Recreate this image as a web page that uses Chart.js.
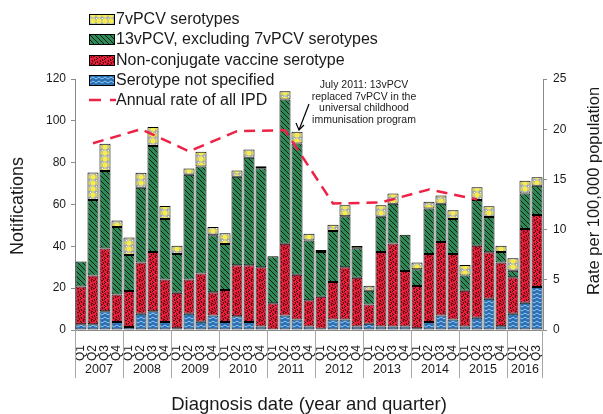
<!DOCTYPE html>
<html>
<head>
<meta charset="utf-8">
<script src="https://cdn.jsdelivr.net/npm/chart.js@4.4.1/dist/chart.umd.min.js"></script>
<style>
  html, body { margin: 0; padding: 0; background: #fff; }
  #wrap { width: 603px; height: 414px; }
</style>
</head>
<body>
<div id="wrap"><canvas id="ipdChart" width="603" height="414"></canvas></div>
<script>
// ===== Data =====
const quarters = ['Q1','Q2','Q3','Q4','Q1','Q2','Q3','Q4','Q1','Q2','Q3','Q4','Q1','Q2','Q3','Q4',
  'Q1','Q2','Q3','Q4','Q1','Q2','Q3','Q4','Q1','Q2','Q3','Q4','Q1','Q2','Q3','Q4',
  'Q1','Q2','Q3','Q4','Q1','Q2','Q3'];
const years = ['2007','2008','2009','2010','2011','2012','2013','2014','2015','2016'];

const notSpecified = [2.8, 2.8, 9, 3.8, 1.4, 7.8, 9, 3.8, 0.8, 7.8, 4, 6.9, 3.8, 6.6, 3.8, 1.7,
  0, 6.9, 5, 1.7, 0.6, 5, 5, 1.7, 3, 1.7, 1.7, 1.7, 0.8, 3.8, 6.9, 5,
  1.7, 5.9, 15, 1.8, 7.8, 13, 20.6];
const nonConjugate = [18, 23.3, 30, 13.2, 17.3, 24.5, 28.3, 20.4, 17, 16.4, 23, 11.1, 15.3, 24.4, 27.2, 28.3,
  12.8, 34.3, 21.4, 12.5, 15.3, 18, 25, 23.3, 9.2, 35.6, 39.6, 26.5, 20.2, 32.5, 35.2, 31.3,
  17.1, 34.4, 22.2, 30.5, 17.4, 35.3, 34.4];
const pcv13Excl7 = [12, 36, 37, 32.3, 17.2, 35.7, 50.7, 28.9, 18.5, 50, 51.2, 27.3, 22, 42.3, 51.3, 47.3,
  22.5, 69, 62.8, 28.6, 21.4, 24.3, 24.4, 14.1, 6.6, 16.8, 19, 17.3, 8.1, 21.8, 18.2, 16.8,
  7.2, 21.8, 16.8, 5, 3.1, 17, 14];
const pcv7 = [0, 13.2, 13, 3, 8.3, 7.2, 9, 6.2, 4, 3, 7, 4, 5.2, 3, 4, 1,
  0, 4, 5.6, 3.2, 1, 3, 5.3, 1, 2.4, 5.5, 5, 0, 3.2, 3.2, 4, 4.2,
  5.1, 6.2, 5.2, 3, 6, 6, 4];
// annual rate per 100,000, plotted at Q2 of each year
const annualRate = [18.6, 20.0, 17.8, 19.8, 19.9, 12.6, 12.7, 14.0, 13.0];

const rateSeries = quarters.map(() => null);
annualRate.forEach((v, i) => { rateSeries[i * 4 + 1] = v; });

// ===== Fill patterns =====
function makePattern(w, h, draw) {
  const c = document.createElement('canvas');
  c.width = w; c.height = h;
  const g = c.getContext('2d');
  draw(g, w, h);
  return document.getElementById('ipdChart').getContext('2d').createPattern(c, 'repeat');
}

const yellowDots = makePattern(6, 6, (g) => {
  g.fillStyle = '#9ea6cc'; g.fillRect(0, 0, 6, 6);
  g.fillStyle = '#f6ec4a';
  g.beginPath(); g.arc(3, 3, 2.7, 0, Math.PI * 2); g.fill();
  g.fillStyle = '#eef0f8';
  g.fillRect(0, 0, 1, 1);
});

const greenHatch = makePattern(5, 5, (g) => {
  g.fillStyle = '#2d8a57'; g.fillRect(0, 0, 5, 5);
  g.strokeStyle = '#0b1a10'; g.lineWidth = 1;
  [-5, 0, 5].forEach(o => {
    g.beginPath(); g.moveTo(o - 1, -1); g.lineTo(o + 6, 6); g.stroke();
  });
});

const redSquiggle = makePattern(8, 8, (g) => {
  g.fillStyle = '#ec1f3b'; g.fillRect(0, 0, 8, 8);
  g.strokeStyle = '#1a0005'; g.lineWidth = 0.9;
  const strokes = [[0,1,2,3],[3,0,4,2],[5,1,7,0],[1,5,2,7],[4,4,5,6],[6,3,7,5],[3,7,5,8],[7,6,8,8],[0,4,1,3]];
  strokes.forEach(s => { g.beginPath(); g.moveTo(s[0], s[1]); g.lineTo(s[2], s[3]); g.stroke(); });
});

const blueZigzag = makePattern(6, 4, (g) => {
  g.fillStyle = '#2b6db3'; g.fillRect(0, 0, 6, 4);
  g.strokeStyle = '#8fcdf2'; g.lineWidth = 1;
  g.beginPath(); g.moveTo(0, 3); g.lineTo(3, 1); g.lineTo(6, 3); g.stroke();
});

const axisGrey = '#8a8a8a';
const txt = '#1a1a1a';
const font = 'Arial, "Liberation Sans", sans-serif';

// ===== Legend, annotation, years, titles =====
const decorPlugin = {
  id: 'decor',
  afterDraw(chart) {
    const ctx = chart.ctx;
    const area = chart.chartArea;
    const catW = (area.right - area.left) / quarters.length;
    ctx.save();

    // year separators and labels
    ctx.strokeStyle = '#a6a6a6'; ctx.lineWidth = 1;
    ctx.fillStyle = txt;
    ctx.font = '12.5px ' + font;
    ctx.textAlign = 'center'; ctx.textBaseline = 'middle';
    years.forEach((yr, i) => {
      const x0 = area.left + i * 4 * catW;
      const n = Math.min(4, quarters.length - i * 4);
      const x1 = x0 + n * catW;
      ctx.beginPath(); ctx.moveTo(Math.round(x0) + 0.5, area.bottom); ctx.lineTo(Math.round(x0) + 0.5, 378); ctx.stroke();
      ctx.fillText(yr, (x0 + x1) / 2, 370);
    });
    ctx.beginPath(); ctx.moveTo(Math.round(area.right) - 0.5, area.bottom); ctx.lineTo(Math.round(area.right) - 0.5, 378); ctx.stroke();

    // axis titles
    ctx.font = '18.5px ' + font;
    ctx.fillText('Diagnosis date (year and quarter)', (area.left + area.right) / 2, 405);
    ctx.save();
    ctx.font = '18px ' + font;
    ctx.translate(18, 206); ctx.rotate(-Math.PI / 2);
    ctx.fillText('Notifications', 0, 0);
    ctx.restore();
    ctx.save();
    ctx.font = '16.5px ' + font;
    ctx.translate(594, 191); ctx.rotate(-Math.PI / 2);
    ctx.fillText('Rate per 100,000 population', 0, 0);
    ctx.restore();

    // legend
    const items = [
      { label: '7vPCV serotypes', fill: yellowDots, y: 19 },
      { label: '13vPCV, excluding 7vPCV serotypes', fill: greenHatch, y: 39 },
      { label: 'Non-conjugate vaccine serotype', fill: redSquiggle, y: 60 },
      { label: 'Serotype not specified', fill: blueZigzag, y: 80 },
      { label: 'Annual rate of all IPD', line: true, y: 100 }
    ];
    ctx.font = '16px ' + font;
    ctx.textAlign = 'left';
    items.forEach(it => {
      if (it.line) {
        ctx.save();
        ctx.strokeStyle = '#ee2244'; ctx.lineWidth = 2.5;
        ctx.setLineDash([12, 9]);
        ctx.beginPath(); ctx.moveTo(89, it.y); ctx.lineTo(116, it.y); ctx.stroke();
        ctx.restore();
      } else {
        ctx.fillStyle = it.fill;
        ctx.fillRect(89, it.y - 5, 26, 11);
        ctx.strokeStyle = '#000'; ctx.lineWidth = 1;
        ctx.strokeRect(89.5, it.y - 4.5, 25, 10);
      }
      ctx.fillStyle = txt;
      ctx.fillText(it.label, 116, it.y + 1);
    });

    // annotation
    ctx.font = '10.5px ' + font;
    ctx.textAlign = 'center';
    ['July 2011: 13vPCV', 'replaced 7vPCV in the', 'universal childhood', 'immunisation program']
      .forEach((l, i) => ctx.fillText(l, 364, 85 + i * 11.8));
    ctx.strokeStyle = '#000'; ctx.lineWidth = 1.2;
    ctx.beginPath(); ctx.moveTo(309, 104); ctx.lineTo(299, 130); ctx.stroke();
    ctx.beginPath(); ctx.moveTo(296, 123); ctx.lineTo(299, 130); ctx.lineTo(304, 125); ctx.stroke();

    ctx.restore();
  }
};

const whiteBg = {
  id: 'whiteBg',
  beforeDraw(chart) {
    const ctx = chart.ctx;
    ctx.save(); ctx.fillStyle = '#fff'; ctx.fillRect(0, 0, chart.width, chart.height); ctx.restore();
  }
};

function barSet(label, data, fill) {
  return {
    type: 'bar', label: label, data: data, backgroundColor: fill,
    borderColor: '#000', borderWidth: 1, borderSkipped: false,
    yAxisID: 'y', stack: 'ipd', order: 1,
    categoryPercentage: 1.0, barPercentage: 0.92
  };
}

new Chart(document.getElementById('ipdChart'), {
  data: {
    labels: quarters,
    datasets: [
      {
        type: 'line', label: 'Annual rate of all IPD', data: rateSeries,
        yAxisID: 'y1', order: 0, spanGaps: true,
        borderColor: '#ee2244', borderWidth: 2.5, borderDash: [11, 7],
        pointRadius: 0, tension: 0, fill: false
      },
      barSet('Serotype not specified', notSpecified, blueZigzag),
      barSet('Non-conjugate vaccine serotype', nonConjugate, redSquiggle),
      barSet('13vPCV, excluding 7vPCV serotypes', pcv13Excl7, greenHatch),
      barSet('7vPCV serotypes', pcv7, yellowDots)
    ]
  },
  options: {
    responsive: false,
    animation: false,
    layout: { padding: { top: 79, left: 0, right: 0, bottom: 0 } },
    plugins: { legend: { display: false }, tooltip: { enabled: false } },
    scales: {
      x: {
        stacked: true,
        offset: true,
        grid: { display: false },
        border: { display: true, color: axisGrey },
        ticks: {
          autoSkip: false, minRotation: 90, maxRotation: 90, padding: 7,
          color: txt, font: { size: 12, family: font }
        },
        afterFit(scale) { scale.height = 84; }
      },
      y: {
        stacked: true, position: 'left', min: 0, max: 120,
        grid: { drawOnChartArea: false, color: axisGrey, tickLength: 4 },
        border: { color: axisGrey },
        ticks: { stepSize: 20, padding: 5, color: txt, font: { size: 12, family: font } },
        afterFit(scale) { scale.width = 75; }
      },
      y1: {
        position: 'right', min: 0, max: 25,
        grid: { drawOnChartArea: false, color: axisGrey, tickLength: 4 },
        border: { color: axisGrey },
        ticks: { stepSize: 5, padding: 6, color: txt, font: { size: 12, family: font } },
        afterFit(scale) { scale.width = 60; }
      }
    }
  },
  plugins: [whiteBg, decorPlugin]
});
</script>
</body>
</html>
